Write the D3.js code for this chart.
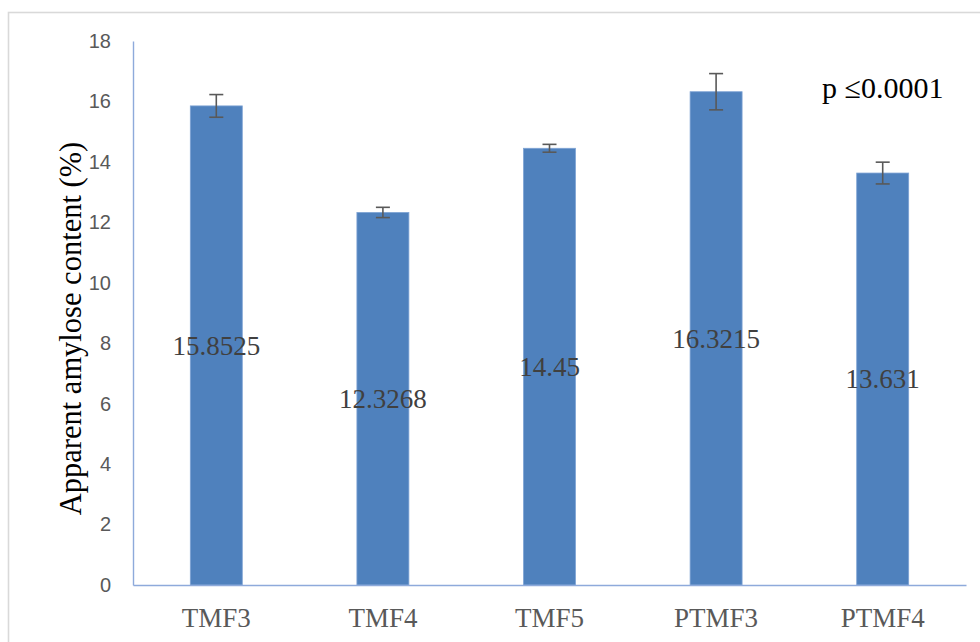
<!DOCTYPE html>
<html>
<head>
<meta charset="utf-8">
<script src="https://cdn.jsdelivr.net/npm/d3@7"></script>
<style>
  html, body { margin: 0; padding: 0; background: #fff; }
  svg { display: block; }
</style>
</head>
<body>
<svg id="chart" width="980" height="642"></svg>
<script>
// Apparent amylose content by flour sample, with standard-error bars
const categories = ["TMF3", "TMF4", "TMF5", "PTMF3", "PTMF4"];
const amylose = [15.8525, 12.3268, 14.45, 16.3215, 13.631];
const errors = [0.375, 0.17, 0.13, 0.6, 0.36];
const yTicks = [0, 2, 4, 6, 8, 10, 12, 14, 16, 18];
const yTitle = "Apparent amylose content (%)";
const note = "p \u22640.0001";

const svg = d3.select("#chart");
const W = 980, H = 642;
const plot = { left: 133, right: 966, top: 41, bottom: 585 };

// outer chart-area border
svg.append("rect")
  .attr("x", 8.5).attr("y", 12.5)
  .attr("width", W + 10).attr("height", H + 10)
  .attr("fill", "#fff")
  .attr("stroke", "#d9d9d9")
  .attr("stroke-width", 1.6);

const x = d3.scaleBand()
  .domain(categories)
  .range([plot.left, plot.right])
  .paddingInner(0.688)
  .paddingOuter(0.344);

const y = d3.scaleLinear()
  .domain([0, 18])
  .range([plot.bottom, plot.top]);

const axisColor = "#8eaadb";
const tickColor = "#595959";

// y axis
const gy = svg.append("g")
  .attr("transform", `translate(${plot.left},0)`)
  .call(d3.axisLeft(y).tickValues(yTicks).tickSize(0).tickSizeOuter(0).tickPadding(22));
gy.select(".domain").attr("stroke", axisColor).attr("stroke-width", 1.4);
gy.selectAll("text")
  .attr("fill", tickColor)
  .style("font-family", "'Liberation Sans', Carlito, Arial, sans-serif")
  .style("font-size", "20px");

// bars
const bars = categories.map((c, i) => ({ c, v: amylose[i], e: errors[i] }));

svg.append("g").selectAll("rect")
  .data(bars)
  .join("rect")
  .attr("x", d => x(d.c))
  .attr("y", d => y(d.v))
  .attr("width", x.bandwidth())
  .attr("height", d => y(0) - y(d.v))
  .attr("fill", "#4f81bd")
  .attr("stroke", "#7ea3d4")
  .attr("stroke-width", 0.8);

// x axis
const gx = svg.append("g")
  .attr("transform", `translate(0,${plot.bottom})`)
  .call(d3.axisBottom(x).tickSize(0).tickSizeOuter(0).tickPadding(23));
gx.select(".domain").attr("stroke", axisColor).attr("stroke-width", 1.4);
gx.selectAll("text")
  .attr("fill", tickColor)
  .style("font-family", "'Liberation Serif', 'Times New Roman', serif")
  .style("font-size", "27px");

// error bars
const capHalf = 7;
const eg = svg.append("g").attr("stroke", "#595959").attr("stroke-width", 1.6);
bars.forEach(d => {
  const cx = x(d.c) + x.bandwidth() / 2;
  eg.append("line").attr("x1", cx).attr("x2", cx)
    .attr("y1", y(d.v + d.e)).attr("y2", y(d.v - d.e));
  [d.v + d.e, d.v - d.e].forEach(v => {
    eg.append("line").attr("x1", cx - capHalf).attr("x2", cx + capHalf)
      .attr("y1", y(v)).attr("y2", y(v));
  });
});

// value labels, centred in each bar
svg.append("g").selectAll("text")
  .data(bars)
  .join("text")
  .attr("x", d => x(d.c) + x.bandwidth() / 2)
  .attr("y", d => y(d.v / 2))
  .attr("dy", "0.35em")
  .attr("text-anchor", "middle")
  .attr("fill", "#404040")
  .style("font-family", "'Liberation Serif', 'Times New Roman', serif")
  .style("font-size", "27px")
  .text(d => d.v);

// y axis title
svg.append("text")
  .attr("transform", `translate(81,${(130 + 527) / 2}) rotate(-90)`)
  .attr("text-anchor", "middle")
  .attr("fill", "#000")
  .style("font-family", "'Liberation Serif', 'Times New Roman', serif")
  .style("font-size", "30.5px")
  .text(yTitle);

// significance note
svg.append("text")
  .attr("x", 822)
  .attr("y", 98)
  .attr("fill", "#000")
  .style("font-family", "'Liberation Serif', 'Times New Roman', serif")
  .style("font-size", "30px")
  .text(note);
</script>
</body>
</html>
